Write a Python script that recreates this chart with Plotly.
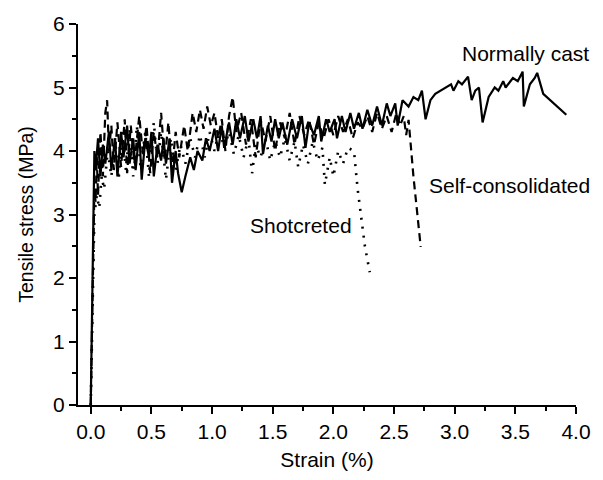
import plotly.graph_objects as go

# Strain (%) and tensile stress (MPa) for each casting method
normal_strain = [0, 0.01, 0.02, 0.03, 0.04, 0.06, 0.08, 0.10, 0.12, 0.15, 0.17, 0.20, 0.22, 0.25,
                 0.27, 0.30, 0.32, 0.35, 0.37, 0.40, 0.42, 0.45, 0.48, 0.50, 0.52, 0.55, 0.58, 0.60,
                 0.62, 0.65, 0.67, 0.70, 0.72, 0.75, 0.78, 0.82, 0.85, 0.88, 0.92, 0.95, 0.98, 1.02,
                 1.05, 1.08, 1.10, 1.14, 1.17, 1.20, 1.23, 1.27, 1.30, 1.34, 1.37, 1.40, 1.42, 1.46,
                 1.49, 1.52, 1.55, 1.58, 1.62, 1.66, 1.70, 1.74, 1.77, 1.80, 1.84, 1.88, 1.90, 1.94,
                 1.97, 2.01, 2.03, 2.07, 2.10, 2.14, 2.17, 2.21, 2.24, 2.28, 2.32, 2.36, 2.40, 2.44,
                 2.47, 2.51, 2.53, 2.57, 2.62, 2.66, 2.70, 2.73, 2.76, 2.80, 2.84, 2.88, 2.92, 2.97,
                 2.99, 3.03, 3.06, 3.11, 3.14, 3.17, 3.20, 3.23, 3.28, 3.33, 3.36, 3.40, 3.42, 3.48,
                 3.52, 3.56, 3.57, 3.62, 3.66, 3.68, 3.73, 3.92]
normal_stress = [0, 1.5, 3.0, 4.0, 3.7, 4.2, 3.6, 4.1, 3.8, 4.3, 3.7, 4.2, 3.6, 4.3,
                 3.9, 4.4, 3.8, 4.2, 3.7, 4.3, 3.55, 4.2, 3.9, 4.3, 3.6, 4.1, 3.85, 4.2,
                 3.8, 4.2, 3.5, 4.0, 3.65, 3.35, 3.6, 3.9, 3.7, 4.0, 3.85, 4.2, 4.0, 4.35,
                 4.0, 4.4, 4.05, 4.45, 4.1, 4.5, 4.2, 4.55, 4.15, 4.5, 4.2, 4.55, 3.95, 4.4,
                 4.15, 4.5, 4.2, 4.45, 4.1, 4.5, 4.2, 4.55, 4.05, 4.45, 4.25, 4.55, 4.15, 4.5,
                 4.3, 4.5, 4.2, 4.55, 4.3, 4.6, 4.35, 4.6, 4.35, 4.65, 4.4, 4.7, 4.4, 4.75,
                 4.55, 4.75, 4.4, 4.8, 4.7, 4.85, 4.8, 4.95, 4.5, 4.8, 4.9, 4.95, 5.0, 5.05,
                 4.95, 5.1, 5.05, 5.17, 4.8, 4.95, 5.0, 4.45, 4.85, 5.0, 4.95, 5.1, 5.0, 5.15,
                 5.1, 5.25, 4.7, 5.05, 5.15, 5.23, 4.9, 4.57]

selfcons_strain = [0, 0.01, 0.02, 0.03, 0.04, 0.05, 0.06, 0.08, 0.10, 0.12, 0.135, 0.15, 0.17, 0.19,
                   0.22, 0.25, 0.28, 0.30, 0.33, 0.36, 0.40, 0.43, 0.46, 0.49, 0.52, 0.55, 0.58, 0.61,
                   0.64, 0.67, 0.70, 0.73, 0.77, 0.80, 0.84, 0.87, 0.90, 0.93, 0.96, 0.99, 1.02, 1.05,
                   1.08, 1.11, 1.14, 1.17, 1.20, 1.24, 1.28, 1.32, 1.36, 1.40, 1.44, 1.48, 1.52, 1.56,
                   1.60, 1.64, 1.68, 1.72, 1.76, 1.80, 1.84, 1.88, 1.92, 1.96, 2.00, 2.04, 2.08, 2.12,
                   2.16, 2.20, 2.24, 2.28, 2.32, 2.36, 2.40, 2.44, 2.48, 2.52, 2.55, 2.58, 2.60, 2.62,
                   2.66, 2.69, 2.72]
selfcons_stress = [0, 1.2, 2.6, 3.4, 3.2, 3.9, 3.3, 4.3, 3.6, 4.6, 4.8, 4.0, 4.4, 3.7,
                   4.45, 3.75, 4.5, 3.65, 4.4, 3.8, 4.55, 3.95, 4.4, 3.65, 4.3, 3.9, 4.6, 3.85,
                   4.45, 3.7, 4.3, 3.9, 4.4, 4.0, 4.6, 4.3, 4.65, 4.35, 4.7, 4.4, 4.6, 4.2,
                   4.5, 4.0, 4.55, 4.85, 4.3, 4.6, 4.1, 4.5, 3.9, 4.5, 4.15, 4.55, 4.0, 4.45,
                   4.2, 4.6, 4.1, 4.55, 4.25, 4.5, 4.1, 4.45, 4.2, 4.5, 4.25, 4.55, 4.3, 4.5,
                   4.2, 4.45, 4.35, 4.55, 4.3, 4.6, 4.35, 4.55, 4.3, 4.6, 4.4, 4.55, 4.25, 4.49,
                   3.6, 3.0, 2.49]

shot_strain = [0, 0.01, 0.02, 0.03, 0.05, 0.07, 0.09, 0.11, 0.14, 0.17, 0.20, 0.23, 0.26, 0.29,
               0.32, 0.35, 0.38, 0.41, 0.45, 0.48, 0.52, 0.55, 0.58, 0.62, 0.66, 0.70, 0.74, 0.78,
               0.82, 0.86, 0.90, 0.94, 0.98, 1.02, 1.06, 1.10, 1.14, 1.18, 1.22, 1.26, 1.30, 1.33,
               1.36, 1.40, 1.44, 1.48, 1.52, 1.56, 1.60, 1.64, 1.68, 1.71, 1.75, 1.79, 1.83, 1.87,
               1.91, 1.93, 1.97, 2.00, 2.04, 2.08, 2.12, 2.17, 2.20, 2.23, 2.26, 2.30]
shot_stress = [0, 1.0, 2.2, 3.0, 3.3, 3.1, 3.6, 3.4, 4.0, 3.6, 4.2, 3.55, 4.3, 3.7,
               4.35, 3.6, 4.4, 3.75, 4.3, 3.6, 4.45, 3.8, 4.3, 3.55, 4.2, 3.7, 4.1, 3.8,
               4.2, 3.9, 4.25, 3.9, 4.3, 4.0, 4.35, 4.05, 4.3, 3.95, 4.25, 3.9, 4.2, 3.65,
               4.1, 3.9, 4.2, 3.85, 4.15, 3.9, 4.2, 3.85, 4.15, 3.75, 4.1, 3.8, 4.15, 3.85,
               4.05, 3.47, 3.9, 3.6, 4.0, 3.8, 4.05, 4.0, 3.4, 2.9, 2.5, 2.09]

x_ticks = [0.0, 0.5, 1.0, 1.5, 2.0, 2.5, 3.0, 3.5, 4.0]
x_tick_text = ["0.0", "0.5", "1.0", "1.5", "2.0", "2.5", "3.0", "3.5", "4.0"]
y_ticks = [0, 1, 2, 3, 4, 5, 6]

FONT = "Liberation Sans"
TEXT = dict(family=FONT, size=21, color="black")
YTITLE = dict(family=FONT, size=19.5, color="black")

fig = go.Figure()
fig.add_trace(go.Scatter(x=shot_strain, y=shot_stress, mode="lines", name="Shotcreted",
                         line=dict(color="black", width=2.6, dash="2px,7px")))
fig.add_trace(go.Scatter(x=selfcons_strain, y=selfcons_stress, mode="lines", name="Self-consolidated",
                         line=dict(color="black", width=2.2, dash="8px,5px")))
fig.add_trace(go.Scatter(x=normal_strain, y=normal_stress, mode="lines", name="Normally cast",
                         line=dict(color="black", width=2.2)))

fig.add_annotation(x=3.58, y=5.54, text="Normally cast", showarrow=False,
                   xanchor="center", yanchor="middle", font=TEXT)
fig.add_annotation(x=3.45, y=3.45, text="Self-consolidated", showarrow=False,
                   xanchor="center", yanchor="middle", font=TEXT)
fig.add_annotation(x=1.73, y=2.83, text="Shotcreted", showarrow=False,
                   xanchor="center", yanchor="middle", font=TEXT)

axis_common = dict(showline=True, linecolor="black", linewidth=2, showgrid=False, zeroline=False,
                   ticks="outside", ticklen=7, tickwidth=1.5, tickcolor="black",
                   tickfont=TEXT, mirror=False)

fig.update_xaxes(range=[-0.105, 4.0], tickvals=x_ticks, ticktext=x_tick_text,
                 title=dict(text="Strain (%)", font=TEXT, standoff=10),
                 minor=dict(ticks="outside", ticklen=4, tickwidth=1.5, tickcolor="black", dtick=0.25,
                            tick0=0, showgrid=False),
                 **axis_common)
fig.update_yaxes(range=[0, 6], tickvals=y_ticks,
                 title=dict(text="Tensile stress (MPa)", font=YTITLE, standoff=14),
                 minor=dict(ticks="outside", ticklen=4, tickwidth=1.5, tickcolor="black", dtick=0.5,
                            tick0=0, showgrid=False),
                 **axis_common)

fig.update_layout(width=603, height=480, margin=dict(l=78, r=27, t=19, b=71),
                  plot_bgcolor="white", paper_bgcolor="white", showlegend=False,
                  font=TEXT)

fig.write_html("out.html")
